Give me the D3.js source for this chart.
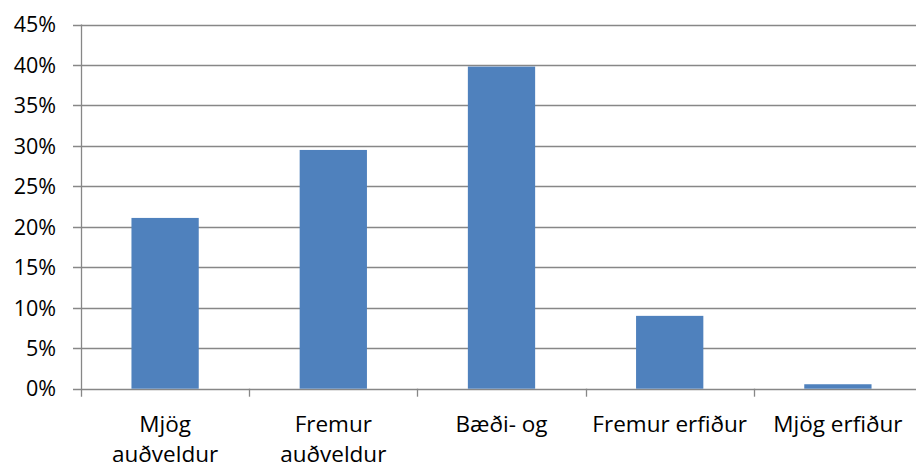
<!DOCTYPE html>
<html>
<head>
<meta charset="utf-8">
<script src="https://cdn.jsdelivr.net/npm/d3@7"></script>
<style>
  body { margin: 0; background: #fff; }
  svg { display: block; }
  text { font-family: "Open Sans", "Noto Sans", sans-serif; fill: #000; }
  .grid line { stroke: #878787; stroke-width: 1.3; }
</style>
</head>
<body>
<svg width="916" height="468"></svg>
<script>
  // categories (label lines) and share of answers
  const categories = ['Mjög auðveldur', 'Fremur auðveldur', 'Bæði- og', 'Fremur erfiður', 'Mjög erfiður'];
  const labelLines = [['Mjög', 'auðveldur'], ['Fremur', 'auðveldur'], ['Bæði- og'], ['Fremur erfiður'], ['Mjög erfiður']];
  const values = [0.211, 0.295, 0.398, 0.090, 0.0055];
  const yTicks = [0, 0.05, 0.10, 0.15, 0.20, 0.25, 0.30, 0.35, 0.40, 0.45];

  const svg = d3.select('svg');
  const plotLeft = 81, plotRight = 922, plotTop = 24.5, plotBottom = 388.7;

  const x = d3.scaleBand()
    .domain(categories)
    .range([plotLeft, plotRight])
    .paddingInner(0.6)
    .paddingOuter(0.3);

  const y = d3.scaleLinear()
    .domain([0, 0.45])
    .range([plotBottom, plotTop]);

  const pct = d3.format('.0%');

  // horizontal gridlines + y tick marks
  const grid = svg.append('g').attr('class', 'grid');
  grid.selectAll('line.h')
    .data(yTicks)
    .enter()
    .append('line')
    .attr('class', 'h')
    .attr('x1', plotLeft - 8)
    .attr('x2', plotRight)
    .attr('y1', d => Math.round(y(d)) + 0.5)
    .attr('y2', d => Math.round(y(d)) + 0.5);

  // y axis line
  grid.append('line')
    .attr('x1', plotLeft + 0.5).attr('x2', plotLeft + 0.5)
    .attr('y1', plotTop).attr('y2', plotBottom + 8);

  // category tick marks on the baseline
  const step = (plotRight - plotLeft) / categories.length;
  grid.selectAll('line.xtick')
    .data(d3.range(1, categories.length + 1))
    .enter()
    .append('line')
    .attr('class', 'xtick')
    .attr('x1', i => Math.round(plotLeft + i * step) + 0.5)
    .attr('x2', i => Math.round(plotLeft + i * step) + 0.5)
    .attr('y1', plotBottom)
    .attr('y2', plotBottom + 8);

  // y labels
  svg.append('g')
    .selectAll('text')
    .data(yTicks)
    .enter()
    .append('text')
    .attr('x', 56)
    .attr('y', d => y(d))
    .attr('dy', '0.36em')
    .attr('text-anchor', 'end')
    .style('font-size', '21.5px')
    .text(pct);

  // bars
  svg.append('g')
    .selectAll('rect')
    .data(values)
    .enter()
    .append('rect')
    .attr('x', (d, i) => x(categories[i]))
    .attr('width', x.bandwidth())
    .attr('y', d => y(d))
    .attr('height', d => plotBottom - y(d))
    .attr('fill', '#4f81bd');

  // category labels
  const labels = svg.append('g')
    .selectAll('text')
    .data(categories)
    .enter()
    .append('text')
    .attr('text-anchor', 'middle')
    .style('font-size', '22.5px')
    .attr('transform', d => `translate(${x(d) + x.bandwidth() / 2}, 432)`);

  labels.selectAll('tspan')
    .data((d, i) => labelLines[i])
    .enter()
    .append('tspan')
    .attr('x', 0)
    .attr('dy', (d, i) => i === 0 ? 0 : 30)
    .text(d => d);
</script>
</body>
</html>
